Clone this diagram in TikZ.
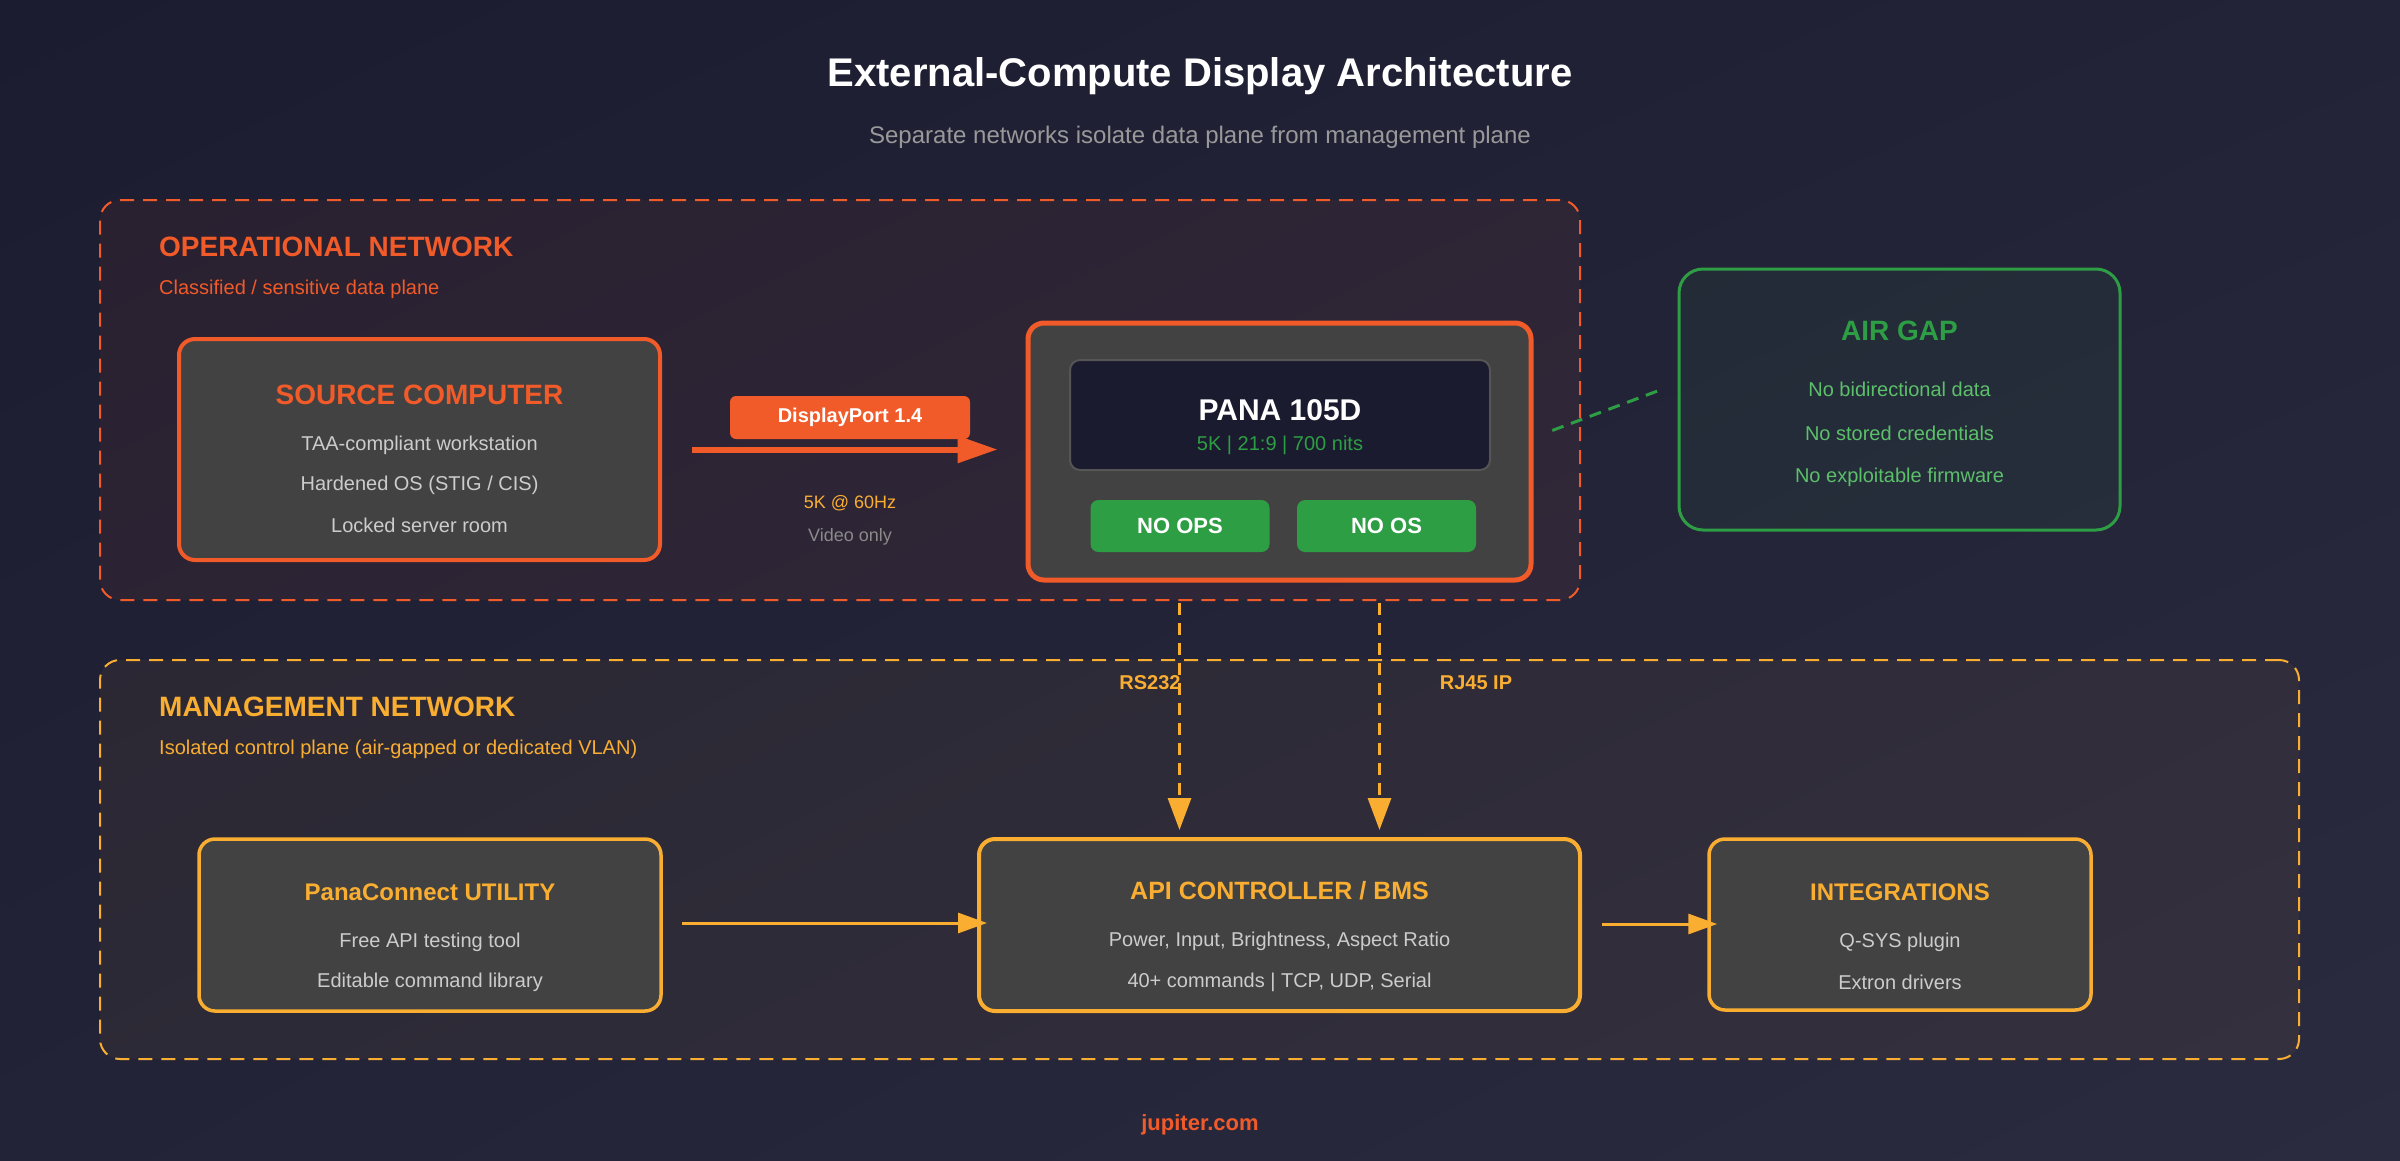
\documentclass[tikz,border=0pt]{standalone}
\usepackage{fontspec}
\setmainfont{Liberation Sans}
\usetikzlibrary{arrows.meta,calc,shadings}
\definecolor{bgA}{HTML}{1B1C2F}
\definecolor{bgM}{HTML}{232338}
\definecolor{bgB}{HTML}{2B2B40}
\definecolor{orng}{HTML}{F15A29}
\definecolor{ambr}{HTML}{F9AE32}
\definecolor{grn}{HTML}{2E9E44}
\definecolor{lgrn}{HTML}{5CBF6A}
\definecolor{boxgray}{HTML}{424242}
\definecolor{txtgray}{HTML}{CCCCCC}
\definecolor{subgray}{HTML}{999999}
\definecolor{dimgray}{HTML}{8A8A8A}
\definecolor{scr}{HTML}{1B1B2F}
\definecolor{scrb}{HTML}{555555}
\newcommand{\fsz}[1]{\fontsize{#1}{#1}\selectfont}
\begin{document}
\begin{tikzpicture}[x=1pt,y=-1pt,
  txt/.style={inner sep=0pt, anchor=center},
  netbox/.style={draw, line width=2pt, dash pattern=on 14pt off 9pt, rounded corners=20pt, inner sep=0pt},
  card/.style={fill=boxgray, rounded corners=16pt, inner sep=0pt},
  badge/.style={fill=grn, rounded corners=8pt, inner sep=0pt, minimum width=179pt, minimum height=52pt, text=white, font=\fsz{22}\bfseries},
  solidarrow/.style={ambr, line width=3pt, -{Triangle[length=29pt,width=20pt]}},
  ctrlarrow/.style={ambr, line width=3pt, dash pattern=on 12pt off 8pt, -{Triangle[length=32pt,width=23pt]}, shorten <=20pt, shorten >=7pt},
  title/.style={txt, font=\fsz{40}\bfseries, text=white},
  boxhead/.style={txt, font=\fsz{28}\bfseries},
  bodytxt/.style={txt, font=\fsz{20}, text=txtgray}
]
\useasboundingbox (0,0) rectangle (2400,1160);
\shade[upper left=bgA, upper right=bgM, lower left=bgM, lower right=bgB] (0,0) rectangle (2400,1160);

% title
\node[title] (ttl) at (1200,76) {External-Compute Display Architecture};
\node[txt, font=\fsz{24}, text=subgray] (sub) at (1200,137) {Separate networks isolate data plane from management plane};

% network zones
\node[netbox, draw=orng, fill=orng, fill opacity=0.06, draw opacity=1, minimum width=1480pt, minimum height=400pt] (opnet) at (840,400) {};
\node[netbox, draw=ambr, fill=ambr, fill opacity=0.05, draw opacity=1, minimum width=2199pt, minimum height=399pt] (mgnet) at (1199.5,859.5) {};

\node[txt, anchor=west, font=\fsz{28}\bfseries, text=orng] (opttl) at (159,247) {OPERATIONAL NETWORK};
\node[txt, anchor=west, font=\fsz{20}, text=orng] (opsub) at (159,289) {Classified / sensitive data plane};
\node[txt, anchor=west, font=\fsz{28}\bfseries, text=ambr] (mgttl) at (159,707) {MANAGEMENT NETWORK};
\node[txt, anchor=west, font=\fsz{20}, text=ambr] (mgsub) at (159,749) {Isolated control plane (air-gapped or dedicated VLAN)};

% source computer
\node[card, draw=orng, line width=4pt, minimum width=481pt, minimum height=221pt] (src) at (419.5,449.5) {};
\node[boxhead, text=orng] (srct) at (419.5,395) {SOURCE COMPUTER};
\node[bodytxt] (src1) at (419.5,445) {TAA-compliant workstation};
\node[bodytxt] (src2) at (419.5,485) {Hardened OS (STIG / CIS)};
\node[bodytxt] (src3) at (419.5,525) {Locked server room};

% PANA display
\node[card, draw=orng, line width=5pt, minimum width=503pt, minimum height=257pt] (pana) at (1279.5,451.5) {};
\node[draw=scrb, fill=scr, line width=2pt, rounded corners=10pt, minimum width=420pt, minimum height=110pt, inner sep=0pt] (screen) at (1280,415) {};
\node[txt, font=\fsz{30}\bfseries, text=white] (panat) at (1280,410) {PANA 105D};
\node[txt, font=\fsz{20}, text=grn] (panas) at (1280,445) {5K | 21:9 | 700 nits};
\node[badge] (noops) at (1180,526) {NO OPS};
\node[badge] (noos) at (1386.5,526) {NO OS};

% DisplayPort link
\draw[orng, line width=6pt, -{Triangle[length=40pt,width=26pt]}, shorten <=30pt, shorten >=28pt] (src.east) -- (src.east -| pana.west);
\node[fill=orng, rounded corners=6pt, minimum width=240pt, minimum height=43pt, inner sep=0pt, text=white, font=\fsz{20}\bfseries] (dp) at (850,417.5) {DisplayPort 1.4};
\node[txt, font=\fsz{18}, text=ambr] (dp1) at (850,503) {5K @ 60Hz};
\node[txt, font=\fsz{18}, text=dimgray] (dp2) at (850,537) {Video only};

% air gap
\node[draw=grn, fill=grn, fill opacity=0.07, draw opacity=1, line width=3pt, rounded corners=24pt, minimum width=441pt, minimum height=261pt, inner sep=0pt] (airgap) at (1899.5,399.5) {};
\node[boxhead, text=grn] (agt) at (1899.5,331) {AIR GAP};
\node[txt, font=\fsz{20}, text=lgrn] (ag1) at (1899.5,389) {No bidirectional data};
\node[txt, font=\fsz{20}, text=lgrn] (ag2) at (1899.5,433) {No stored credentials};
\node[txt, font=\fsz{20}, text=lgrn] (ag3) at (1899.5,477) {No exploitable firmware};
\draw[grn, line width=3pt, dash pattern=on 12pt off 8pt, shorten <=20pt, shorten >=20pt] ($(pana.east)+(0,-14)$) -- ($(airgap.west)+(0,-16)$);

% management boxes
\node[card, draw=ambr, line width=3.5pt, minimum width=462pt, minimum height=172pt] (pc) at (430,925) {};
\node[txt, font=\fsz{24}\bfseries, text=ambr] (pct) at (430,892) {PanaConnect UTILITY};
\node[bodytxt] (pc1) at (430,942) {Free API testing tool};
\node[bodytxt] (pc2) at (430,982) {Editable command library};

\node[card, draw=ambr, line width=4pt, minimum width=601pt, minimum height=172pt] (api) at (1279.5,925) {};
\node[txt, font=\fsz{25}\bfseries, text=ambr] (apit) at (1279.5,891) {API CONTROLLER / BMS};
\node[bodytxt] (api1) at (1279.5,941) {Power, Input, Brightness, Aspect Ratio};
\node[bodytxt] (api2) at (1279.5,982) {40+ commands | TCP, UDP, Serial};

\node[card, draw=ambr, line width=3.5pt, minimum width=382pt, minimum height=171pt] (integ) at (1900,924.5) {};
\node[txt, font=\fsz{24}\bfseries, text=ambr] (integt) at (1900,892) {INTEGRATIONS};
\node[bodytxt] (integ1) at (1900,942) {Q-SYS plugin};
\node[bodytxt] (integ2) at (1900,982) {Extron drivers};

% connectors
\draw[solidarrow, shorten <=19pt] (pc.east |- 0,923) coordinate (pcout) -- ($(api.west |- 0,923)+(10,0)$) coordinate (apiin);
\draw[solidarrow, shorten <=20pt] (api.east |- 0,924) coordinate (apiout) -- ($(integ.west |- 0,924)+(10,0)$) coordinate (integin);
\draw[ctrlarrow] ($(pana.south)+(-100,0)$) coordinate (rsout) -- (rsout |- api.north);
\draw[ctrlarrow] ($(pana.south)+(100,0)$) coordinate (rjout) -- (rjout |- api.north);
\node[txt, font=\fsz{20}\bfseries, text=ambr] (rs) at (1150,683) {RS232};
\node[txt, font=\fsz{20}\bfseries, text=ambr] (rj) at (1476,683) {RJ45 IP};

% footer
\node[txt, font=\fsz{22}\bfseries, text=orng] (foot) at (1200,1125) {jupiter.com};
\end{tikzpicture}
\end{document}
